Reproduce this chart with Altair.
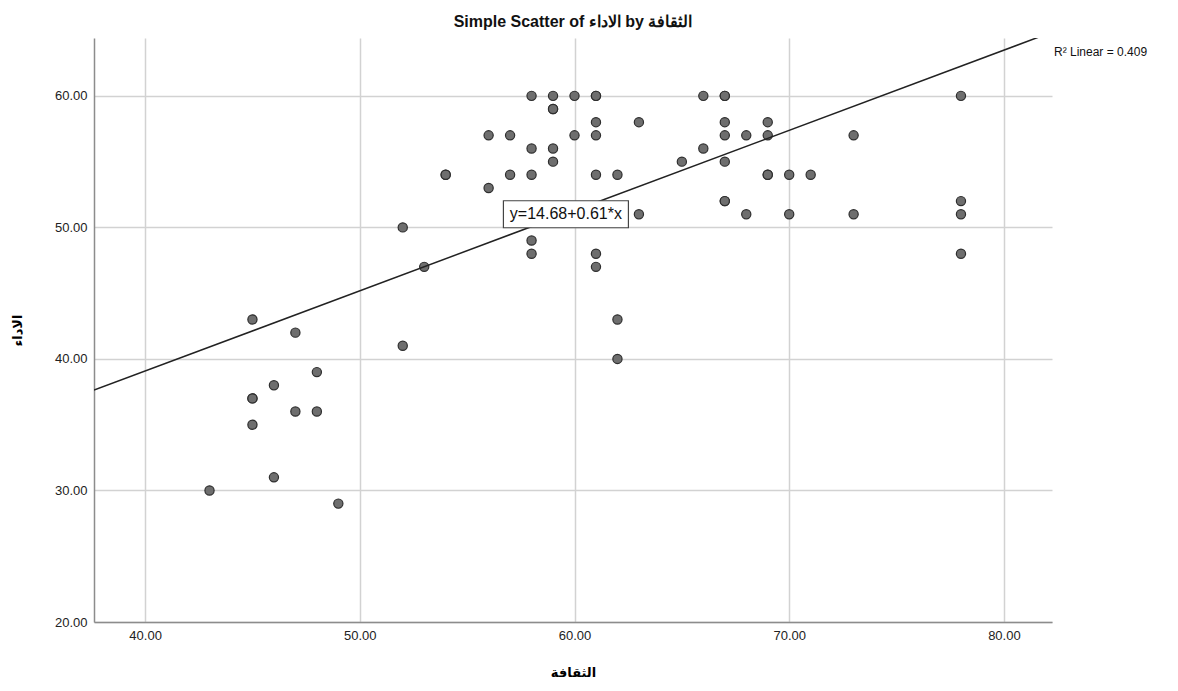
import altair as alt
import pandas as pd

# Data
culture = [43, 45, 45, 45, 45, 46, 46, 47, 47, 48, 48, 49,
           52, 52, 53, 54, 54, 56, 56, 57, 57,
           58, 58, 58, 58, 58, 59, 59, 59, 59, 59, 60, 60,
           61, 61, 61, 61, 61, 61, 61, 62, 62, 62, 63, 63,
           65, 66, 66, 67, 67, 67, 67, 67, 67, 67, 68, 68,
           69, 69, 69, 69, 70, 70, 71, 73, 73, 78, 78, 78, 78]
performance = [30, 43, 37, 37, 35, 38, 31, 42, 36, 39, 36, 29,
               50, 41, 47, 54, 54, 57, 53, 57, 54,
               60, 56, 54, 49, 48, 60, 59, 59, 56, 55, 60, 57,
               60, 60, 58, 57, 54, 48, 47, 54, 43, 40, 58, 51,
               55, 60, 56, 60, 60, 58, 57, 55, 52, 52, 57, 51,
               58, 57, 54, 54, 54, 51, 54, 57, 51, 60, 52, 51, 48]

intercept = 14.68
slope = 0.61
r2_text = "R\u00b2 Linear = 0.409"
equation_text = "y=14.68+0.61*x"
equation_anchor_x = [59.6]
equation_anchor_y = [51.0]

x_domain = [37.62, 82.24]
y_domain = [20, 64.4]
x_ticks = [40, 50, 60, 70, 80]
y_ticks = [20, 30, 40, 50, 60]

W, H = 958, 584
FONT = "Liberation Sans"

df = pd.DataFrame({"x": culture, "y": performance})
line_df = pd.DataFrame({"x": x_domain,
                        "y": [intercept + slope * v for v in x_domain]})
eq_df = pd.DataFrame({"x": equation_anchor_x, "y": equation_anchor_y,
                      "label": [equation_text]})

xs = alt.Scale(domain=x_domain, nice=False, zero=False)
ys = alt.Scale(domain=y_domain, nice=False, zero=False)

x_axis = alt.Axis(values=x_ticks, format=".2f", title="الثقافة",
                  grid=True, gridColor="#d2d2d2", gridWidth=1.5,
                  domainColor="#8c8c8c", domainWidth=1.5, ticks=False,
                  labelPadding=7, labelFontSize=13, labelFont=FONT,
                  labelColor="#222", titleFont="DejaVu Sans", titleFontSize=13,
                  titleFontWeight="bold", titlePadding=24, labelFlush=False)
y_axis = alt.Axis(values=y_ticks, format=".2f", title="الاداء",
                  grid=True, gridColor="#d2d2d2", gridWidth=1.5,
                  domainColor="#8c8c8c", domainWidth=1.5, ticks=False,
                  labelPadding=7, labelFontSize=13, labelFont=FONT,
                  labelColor="#222", titleFont="DejaVu Sans", titleFontSize=13,
                  titleFontWeight="bold", titlePadding=30, labelFlush=False)

points = alt.Chart(df).mark_circle(
    size=85, color="#6e6e6e", opacity=1, stroke="#2e2e2e", strokeWidth=1.2
).encode(
    x=alt.X("x:Q", scale=xs, axis=x_axis),
    y=alt.Y("y:Q", scale=ys, axis=y_axis),
)

fit = alt.Chart(line_df).mark_line(color="#222", strokeWidth=1.5, clip=True).encode(
    x=alt.X("x:Q", scale=xs), y=alt.Y("y:Q", scale=ys)
)

box = alt.Chart(eq_df).mark_point(
    shape="M-1,-0.216L1,-0.216L1,0.216L-1,0.216Z", size=15625,
    filled=True, fill="white", stroke="#444", strokeWidth=1.2, opacity=1
).encode(x=alt.X("x:Q", scale=xs), y=alt.Y("y:Q", scale=ys))

eq_text = alt.Chart(eq_df).mark_text(
    font=FONT, fontSize=16, color="#111", baseline="middle", align="center"
).encode(x=alt.X("x:Q", scale=xs), y=alt.Y("y:Q", scale=ys), text="label:N")

r2 = alt.Chart(pd.DataFrame({"t": [r2_text]})).mark_text(
    font=FONT, fontSize=12, color="#111", align="left", baseline="middle"
).encode(x=alt.value(W + 2), y=alt.value(14), text="t:N")

chart = alt.layer(points, fit, box, eq_text, r2).properties(
    width=W, height=H,
    title=alt.TitleParams(
        "Simple Scatter of الاداء by الثقافة",
        font=FONT, fontSize=16, fontWeight="bold", color="#111",
        anchor="middle", offset=8
    ),
    autosize=alt.AutoSizeParams(type="none"),
    padding={"left": 86, "top": 30, "right": 110, "bottom": 60},
).configure_view(stroke=None)

chart.save("out.html", embed_options={"renderer": "svg", "actions": False})
